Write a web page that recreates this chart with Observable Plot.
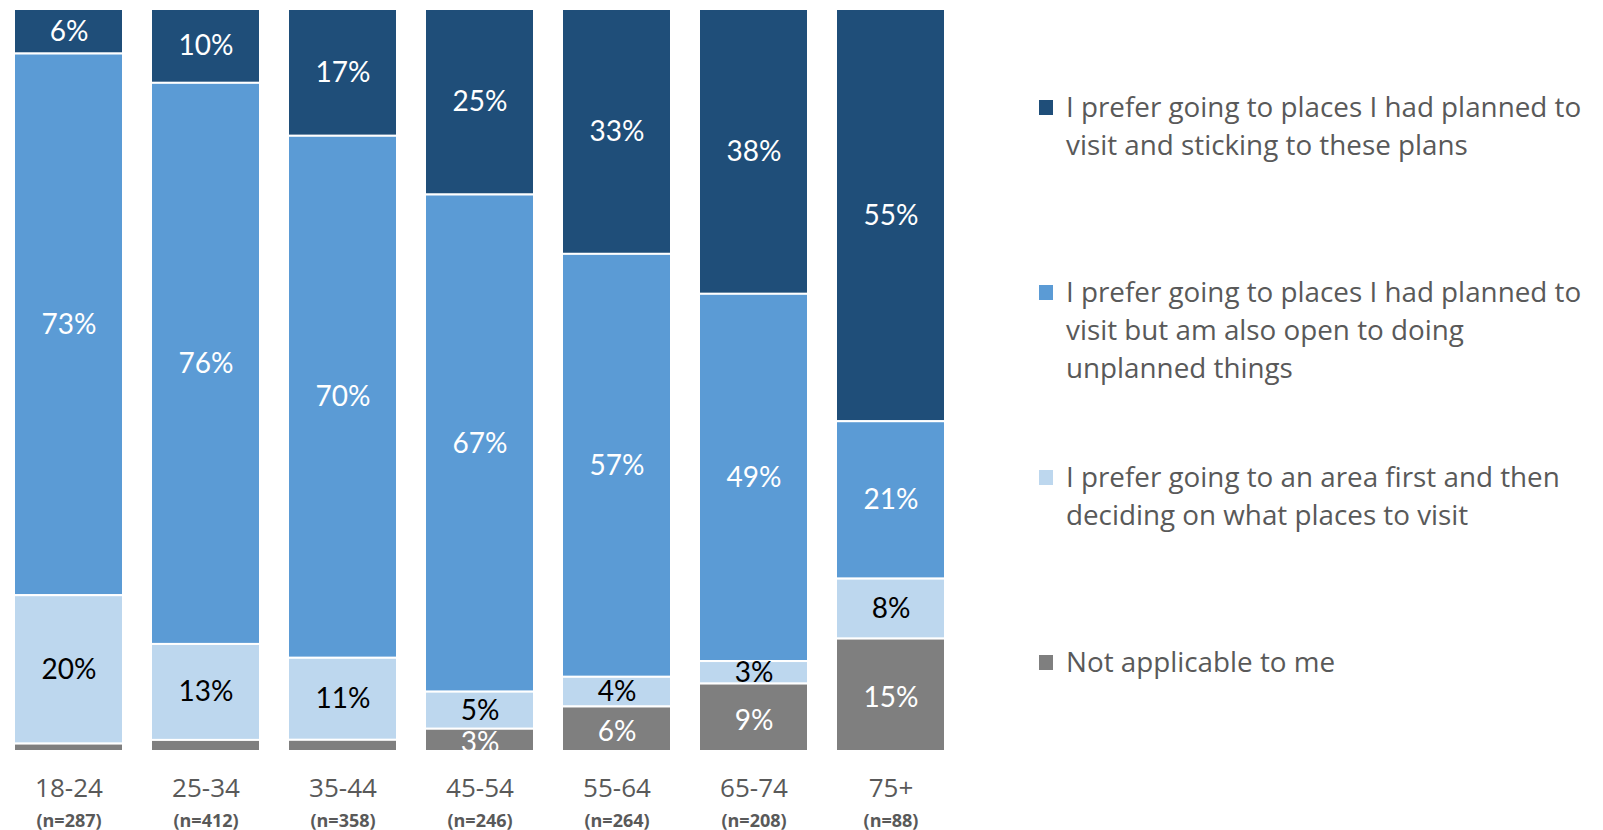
<!DOCTYPE html>
<html>
<head>
<meta charset="utf-8">
<script src="https://cdn.jsdelivr.net/npm/d3@7"></script>
<script src="https://cdn.jsdelivr.net/npm/@observablehq/plot@0.6"></script>
<style>
  html, body { margin: 0; padding: 0; background: #fff; }
  #wrap { position: relative; width: 1603px; height: 830px; overflow: hidden; }
  #chart { position: absolute; left: 0; top: 0; }
  .item { position: absolute; left: 1039px; font-family: "Open Sans", Lato, sans-serif; font-size: 27.8px; line-height: 38px; color: #595959; white-space: nowrap; letter-spacing: 0px; }
  .sw { position: absolute; left: 0; top: 12px; width: 14px; height: 15px; }
  .lbl { position: absolute; left: 27px; top: -1px; }
</style>
</head>
<body>
<div id="wrap">
  <div id="chart"></div>
  <div id="legend"></div>
</div>
<script>
// ---- data ----
const categories = ["18-24", "25-34", "35-44", "45-54", "55-64", "65-74", "75+"];
const sampleSizes = ["(n=287)", "(n=412)", "(n=358)", "(n=246)", "(n=264)", "(n=208)", "(n=88)"];
const seriesNames = [
  "I prefer going to places I had planned to visit and sticking to these plans",
  "I prefer going to places I had planned to visit but am also open to doing unplanned things",
  "I prefer going to an area first and then deciding on what places to visit",
  "Not applicable to me"
];
const legendLines = [
  ["I prefer going to places I had planned to", "visit and sticking to these plans"],
  ["I prefer going to places I had planned to", "visit but am also open to doing", "unplanned things"],
  ["I prefer going to an area first and then", "deciding on what places to visit"],
  ["Not applicable to me"]
];
const plannedStick = [6, 10, 17, 25, 33, 38, 55];
const plannedOpen = [73, 76, 70, 67, 57, 49, 21];
const areaFirst = [20, 13, 11, 5, 4, 3, 8];
const notApplicable = [1, 1.5, 1.5, 3, 6, 9, 15];
const seriesColors = ["#1F4E79", "#5B9BD5", "#BDD7EE", "#7F7F7F"];
const labelColors = ["white", "white", "black", "white"];

const seriesValues = [plannedStick, plannedOpen, areaFirst, notApplicable];
const rows = categories.flatMap((c, i) =>
  seriesNames.map((s, j) => ({age: c, series: s, si: j, value: seriesValues[j][i]}))
);
const stackOrder = [seriesNames[3], seriesNames[2], seriesNames[1], seriesNames[0]];
const nRows = categories.map((c, i) => ({age: c, n: sampleSizes[i]}));

const stackOpts = {x: "age", y: "value", z: "series", order: stackOrder, offset: "normalize"};

const chart = Plot.plot({
  width: 980,
  height: 830,
  marginTop: 9,
  marginBottom: 79,
  marginLeft: 0,
  marginRight: 0,
  style: {background: "white"},
  x: {domain: categories, range: [13, 946], paddingInner: 0.206, paddingOuter: 0, axis: null},
  y: {axis: null},
  color: {domain: seriesNames, range: seriesColors},
  marks: [
    Plot.barY(rows, Plot.stackY({
      ...stackOpts, fill: "series", stroke: "white", strokeWidth: 2
    })),
    // labels of the three upper series
    Plot.text(rows, Plot.stackY({
      ...stackOpts,
      text: d => d.si !== 3 ? d.value + "%" : "",
      fill: d => labelColors[d.si],
      fontSize: 28, fontFamily: "Lato, 'Open Sans', sans-serif",
      clip: true
    })),
    // labels of the "not applicable" series (shown when large enough)
    Plot.text(rows, Plot.stackY({
      ...stackOpts,
      text: d => d.si === 3 && d.value >= 2 ? d.value + "%" : "",
      fill: "white", dy: 3,
      fontSize: 28, fontFamily: "Lato, 'Open Sans', sans-serif",
      clip: true
    })),
    Plot.text(categories, {
      x: d => d, frameAnchor: "bottom", dy: 45, text: d => d,
      fontSize: 26, fill: "#595959", fontFamily: "'Open Sans', sans-serif"
    }),
    Plot.text(nRows, {
      x: "age", frameAnchor: "bottom", dy: 75, text: "n",
      fontSize: 18, fontWeight: "bold", fill: "#595959", fontFamily: "'Open Sans', sans-serif"
    })
  ]
});
document.getElementById("chart").appendChild(chart);

// ---- legend ----
const legendTops = [88, 273, 458, 643];
const legend = document.getElementById("legend");
seriesNames.forEach((s, j) => {
  const item = document.createElement("div");
  item.className = "item";
  item.style.top = legendTops[j] + "px";
  const sw = document.createElement("div");
  sw.className = "sw";
  sw.style.background = seriesColors[j];
  const lbl = document.createElement("div");
  lbl.className = "lbl";
  lbl.innerHTML = legendLines[j].join("<br>");
  item.appendChild(sw);
  item.appendChild(lbl);
  legend.appendChild(item);
});
</script>
</body>
</html>
